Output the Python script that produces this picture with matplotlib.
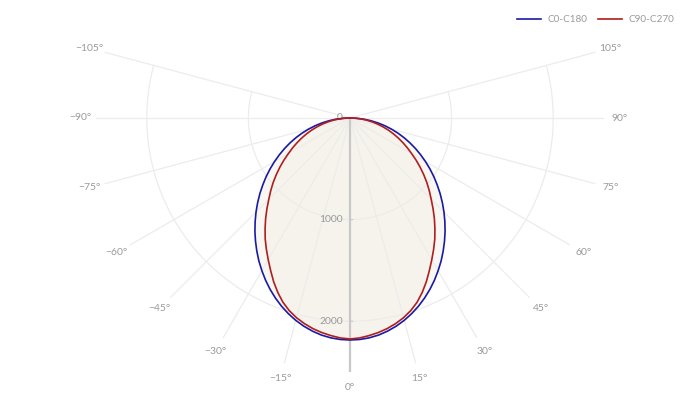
import numpy as np
import matplotlib
matplotlib.use("Agg")
import matplotlib.pyplot as plt

# angles (deg from nadir) and intensities (cd)
angles = [0, 2.5, 5, 7.5, 10, 12.5, 15, 17.5, 20, 22.5, 25, 27.5, 30, 32.5, 35, 37.5,
          40, 42.5, 45, 47.5, 50, 52.5, 55, 57.5, 60, 62.5, 65, 67.5, 70, 72.5,
          75, 77.5, 80, 82.5, 85, 87.5, 90]
c0_c180 = [2185, 2182, 2172, 2155, 2130, 2099, 2062, 2019, 1971, 1918, 1861, 1800,
           1735, 1669, 1599, 1528, 1456, 1382, 1308, 1233, 1158, 1082, 1008, 933,
           858, 784, 711, 638, 566, 494, 422, 351, 280, 210, 140, 70, 0]
c90_c270 = [2175, 2167, 2150, 2130, 2105, 2073, 2035, 1988, 1930, 1858, 1778, 1692,
            1610, 1532, 1455, 1373, 1292, 1210, 1130, 1058, 987, 914, 842, 771,
            700, 637, 575, 514, 454, 395, 336, 279, 222, 166, 110, 55, 0]

series_names = ["C0-C180", "C90-C270"]
series_colors = ["#1a1aa6", "#b01e1e"]
r_ticks = [0, 1000, 2000]
r_max = 2500
theta_ticks = list(range(-105, 106, 15))

plt.rcParams["font.family"] = ["Lato", "DejaVu Sans"]
text_color = "#9a9a9a"
grid_color = "#ececec"


def mirror(vals):
    # full curve from -90 to 90 (symmetric planes)
    ang = [-a for a in angles[::-1]] + angles[1:]
    v = vals[::-1] + vals[1:]
    return np.radians(ang), np.array(v)


fig = plt.figure(figsize=(7, 4.04), dpi=100)
R_px = 254
cx, cy = 350, 118
ax = fig.add_axes([(cx - R_px) / 700, (404 - cy - R_px) / 404,
                   2 * R_px / 700, 2 * R_px / 404], projection="polar")
ax.set_theta_zero_location("S")
ax.set_theta_direction(1)
ax.set_rlim(0, r_max)
ax.set_xticks([])
ax.set_yticks([])
ax.grid(False)
ax.patch.set_alpha(0)
for sp in ax.spines.values():
    sp.set_visible(False)

# grid: spokes and arcs over the sector
arc = np.radians(np.linspace(-105, 105, 300))
for rv in r_ticks[1:]:
    ax.plot(arc, np.full_like(arc, rv), color=grid_color, lw=0.9, zorder=1.5)
for t in theta_ticks:
    if t != 0:
        ax.plot([np.radians(t)] * 2, [0, r_max], color=grid_color, lw=0.9, zorder=1.5)

# fills
for vals, fc in [(c0_c180, "#f9f7f1"), (c90_c270, "#f5f3eb")]:
    th, r = mirror(vals)
    ax.fill(th, r, color=fc, zorder=1, lw=0)

# radial axis line at 0 deg
ax.plot([0, 0], [0, r_max], color="#c8c8c8", lw=1.6, zorder=1.8)

handles = []
for vals, name, col in zip([c0_c180, c90_c270], series_names, series_colors):
    th, r = mirror(vals)
    ln, = ax.plot(th, r, color=col, lw=1.2, label=name, zorder=3,
                  solid_joinstyle="round")
    handles.append(ln)

# radial labels
for rv in r_ticks:
    ax.annotate(str(rv), xy=(0, rv), xytext=(-5, 0), textcoords="offset points",
                ha="right", va="center", fontsize=7.5, color=text_color, zorder=2)
    if rv > 0:
        ax.annotate("", xy=(0, rv), xytext=(4, 0), textcoords="offset points",
                    arrowprops=dict(arrowstyle="-", color="#c8c8c8", lw=0.8))

# angular labels
for t in theta_ticks:
    lab = ("\u2212%d°" % -t) if t < 0 else "%d°" % t
    ax.text(np.radians(t), r_max * 1.062, lab, ha="center", va="center",
            fontsize=7.5, color=text_color, clip_on=False)

fig.legend(handles=handles, loc="upper right", bbox_to_anchor=(0.976, 0.985),
           ncol=2, frameon=False, fontsize=7.2, handlelength=2.4,
           columnspacing=1.1, handletextpad=0.6, labelcolor=text_color)

fig.savefig("out.png", dpi=100)
